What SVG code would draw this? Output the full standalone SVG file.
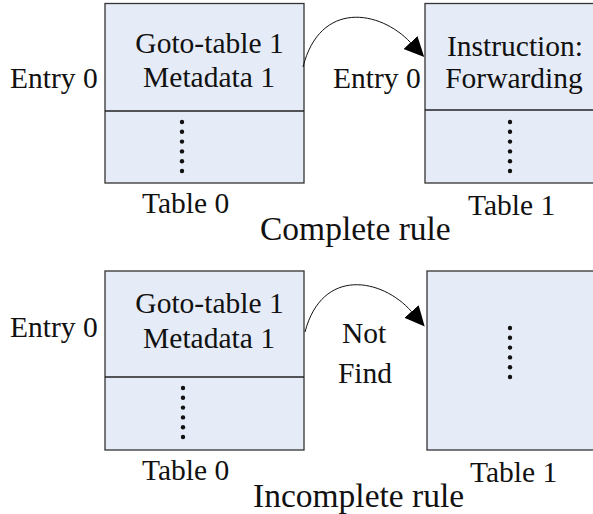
<svg xmlns="http://www.w3.org/2000/svg" width="593" height="514" viewBox="0 0 593 514">
<style>
.box{fill:#E6ECF7;stroke:#333;stroke-width:1.3}
.div{stroke:#222;stroke-width:1.3}
.t{font-family:"Liberation Serif","Times New Roman",serif;font-size:29.5px;fill:#111}
.c{text-anchor:middle}
.big{font-size:33.5px}
.dot{fill:#111}
.arr{fill:none;stroke:#111;stroke-width:1}
</style>
<defs>
<marker id="ah" markerUnits="userSpaceOnUse" markerWidth="22" markerHeight="20" refX="0" refY="9.5" orient="auto" viewBox="0 0 22 19">
<path d="M0,0 L20,9.5 L0,19 z" fill="#000"/>
</marker>
<g id="dots6">
<circle cx="0" cy="0" r="2.2"/><circle cx="0" cy="9.8" r="2.2"/><circle cx="0" cy="19.6" r="2.2"/><circle cx="0" cy="29.4" r="2.2"/><circle cx="0" cy="39.2" r="2.2"/><circle cx="0" cy="49" r="2.2"/>
</g>
</defs>
<rect width="593" height="514" fill="#fff"/>

<g id="top-table0">
<rect class="box" x="105" y="3.5" width="199" height="179.5"/>
<line class="div" x1="105" y1="111" x2="304" y2="111"/>
<text class="t c" x="209.5" y="53">Goto-table 1</text>
<text class="t c" x="209" y="87">Metadata 1</text>
<use href="#dots6" class="dot" x="182" y="122"/>
</g>
<g id="top-table1">
<rect class="box" x="425" y="3.5" width="200" height="179.5"/>
<line class="div" x1="425" y1="110" x2="600" y2="110"/>
<text class="t c" x="515" y="56">Instruction:</text>
<text class="t c" x="514" y="88">Forwarding</text>
<use href="#dots6" class="dot" x="510" y="122"/>
</g>
<g id="top-labels">
<text class="t" x="10" y="88">Entry 0</text>
<text class="t" x="333" y="88">Entry 0</text>
<text class="t" x="142" y="213">Table 0</text>
<text class="t" x="468" y="215">Table 1</text>
<text class="t big" x="260" y="240">Complete rule</text>
</g>

<g id="bottom-table0">
<rect class="box" x="105" y="271" width="199" height="179"/>
<line class="div" x1="105" y1="377" x2="304" y2="377"/>
<text class="t c" x="209.5" y="313">Goto-table 1</text>
<text class="t c" x="209" y="348">Metadata 1</text>
<use href="#dots6" class="dot" x="183" y="388"/>
</g>
<g id="bottom-table1">
<rect class="box" x="427" y="271" width="200" height="179"/>
<use href="#dots6" class="dot" x="510" y="328"/>
</g>
<g id="bottom-labels">
<text class="t" x="10" y="337">Entry 0</text>
<text class="t c" x="364" y="343">Not</text>
<text class="t c" x="365" y="383">Find</text>
<text class="t" x="142" y="480">Table 0</text>
<text class="t" x="470" y="482">Table 1</text>
<text class="t big" x="253" y="507">Incomplete rule</text>
</g>

<g id="connectors">
<path class="arr" d="M303,67 C320,0 380,10 410.5,42.5" marker-end="url(#ah)"/>
<path class="arr" d="M305,332 C322,267 382,278 411.5,311.5" marker-end="url(#ah)"/>
</g>
</svg>
